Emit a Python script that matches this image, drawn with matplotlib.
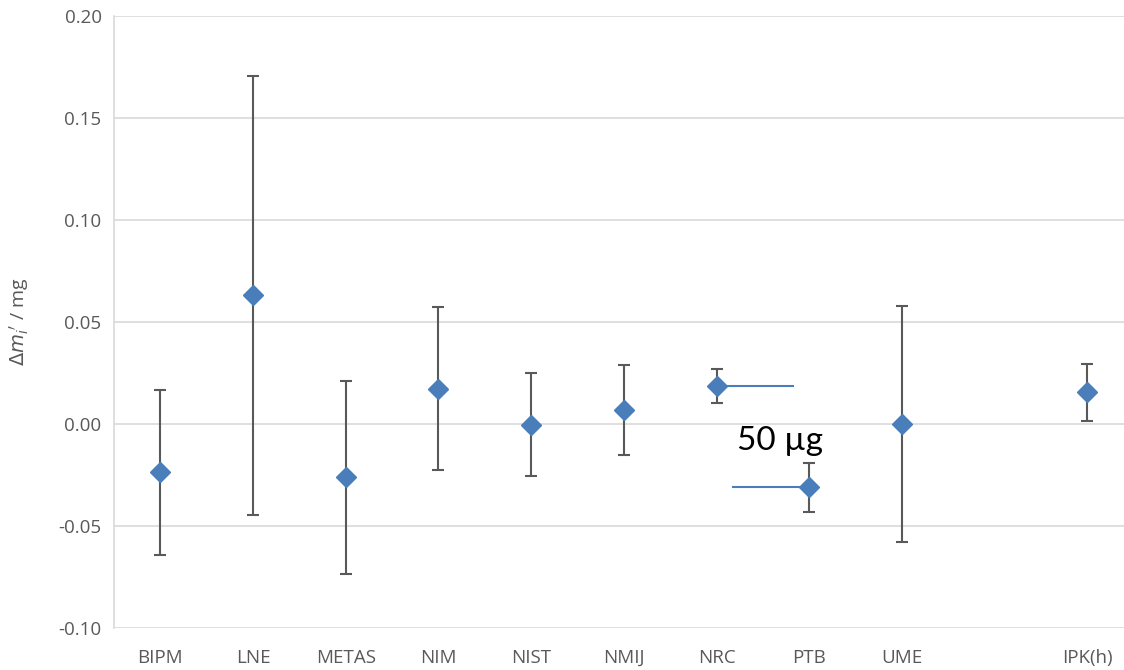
import matplotlib.pyplot as plt

labs = ["BIPM", "LNE", "METAS", "NIM", "NIST", "NMIJ", "NRC", "PTB", "UME", "", "IPK(h)"]
xpos = [0, 1, 2, 3, 4, 5, 6, 7, 8, 10]
dm = [-0.0236, 0.0630, -0.0262, 0.0174, -0.0004, 0.0067, 0.0188, -0.0310, 0.0000, 0.0155]
err = [0.0404, 0.1075, 0.0474, 0.0399, 0.0253, 0.0221, 0.0083, 0.0120, 0.0578, 0.0140]

# the two guide lines for the 50 ug gap between NRC and PTB
nrc_line_x = [6, 6.82]
nrc_line_y = [0.0188, 0.0188]
ptb_line_x = [6.18, 7]
ptb_line_y = [-0.0310, -0.0310]

blue = "#4a7ebb"
grey = "#595959"

fig = plt.figure(figsize=(11.24, 6.7), dpi=100)
ax = fig.add_axes([114 / 1124, 1 - 628 / 670, 1 - 114 / 1124, (628 - 16) / 670])

ax.plot(nrc_line_x, nrc_line_y, color=blue, lw=1.5, zorder=2)
ax.plot(ptb_line_x, ptb_line_y, color=blue, lw=1.5, zorder=2)
ax.errorbar(xpos, dm, yerr=err, fmt="D", color=blue, ms=10, mec=blue,
            ecolor=grey, elinewidth=1.5, capsize=4, capthick=1.5, zorder=3)

ax.text(6.68, -0.0085, "50 µg", fontsize=24, family="Lato", ha="center", va="center", color="black")

ax.set_xlim(-0.5, (1124 - 114) / 92.7 - 0.5)
ax.set_ylim(-0.10, 0.20)
ax.set_xticks(range(len(labs)))
ax.set_xticklabels(labs)
ax.set_yticks([-0.10, -0.05, 0.00, 0.05, 0.10, 0.15, 0.20])
ax.set_yticklabels([f"{v:.2f}" for v in ax.get_yticks()])
ax.tick_params(axis="both", length=0, labelsize=13.5, labelcolor=grey)
ax.tick_params(axis="x", pad=15)
ax.tick_params(axis="y", pad=9)
for lbl in ax.get_xticklabels() + ax.get_yticklabels():
    lbl.set_family("Open Sans")

ax.grid(axis="y", color="#d9d9d9", lw=1.2)
ax.set_axisbelow(True)
for s in ["top", "right", "bottom"]:
    ax.spines[s].set_visible(False)
ax.spines["left"].set_color("#d9d9d9")
ax.spines["left"].set_linewidth(1.2)

ax.set_ylabel(r"$\mathit{\Delta m_i}'$ / mg", fontsize=14, color=grey, family="Open Sans")
ax.yaxis.set_label_coords(-0.082, 0.5)

fig.savefig("out.png", dpi=100)
